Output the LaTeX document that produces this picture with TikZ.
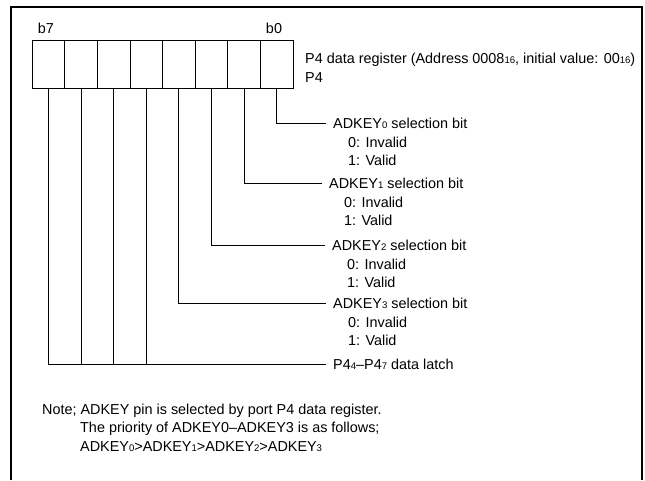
\documentclass[tikz,border=0pt]{standalone}
\usepackage{fontspec}
\setmainfont{Liberation Sans}
\usetikzlibrary{positioning}
\newcommand{\sm}[1]{{\fontsize{9.6}{9.6}\selectfont #1}}

\begin{document}
\begin{tikzpicture}[x=1pt, y=-1pt, every node/.style={font=\fontsize{14.4}{18}\selectfont}, cell/.style={draw,line width=0.9pt,minimum width=32.6pt,minimum height=48pt,inner sep=0pt}, lbl/.style={anchor=base west,inner sep=0pt}, key/.style={anchor=west,inner xsep=7pt,inner ysep=0pt}, wire/.style={line width=0.9pt}]
\useasboundingbox (0,0) rectangle (645,480);
\draw[line width=1.4pt] (11,480) -- (11,7) -- (642,7) -- (642,480);
% register cells, b0 on the right
\foreach \i in {0,...,7}
  \node[cell] (b\i) at ({293-32.6*(\i+0.5)},64) {};
\node (lb7) at (46,28) {b7};
\node (lb0) at (274,28) {b0};
\node[lbl] (title) at (305,63) {P4 data register (Address 0008\sm{16}, initial value: 00\sm{16})};
\node[lbl] (reg) at (305,82) {P4};
% selection bits
\foreach \i/\y/\x in {0/123/333, 1/183/329, 2/245/332, 3/303/333} {
  \node[key] (k\i) at (\x-7,\y) {ADKEY\sm{\i} selection bit};
  \node[lbl] (k\i0) at (\x+15,\y+24) {0: Invalid};
  \node[lbl] (k\i1) at (\x+15,\y+42) {1: Valid};
  \draw[wire] (b\i.south) |- (k\i.west);
}
\node[key] (latch) at (326,364) {P4\sm{4}–P4\sm{7} data latch};
\draw[wire] (b7.south) |- (latch.west);
\foreach \i in {4,5,6}
  \draw[wire] (b\i.south) -- (b\i.south |- latch.west);
% note
\node[lbl] (note1) at (42,414) {Note; ADKEY pin is selected by port P4 data register.};
\node[lbl] (note2) at (80,432) {The priority of ADKEY0–ADKEY3 is as follows;};
\node[lbl] (note3) at (80,451) {ADKEY\sm{0}>ADKEY\sm{1}>ADKEY\sm{2}>ADKEY\sm{3}};
\end{tikzpicture}
\end{document}
